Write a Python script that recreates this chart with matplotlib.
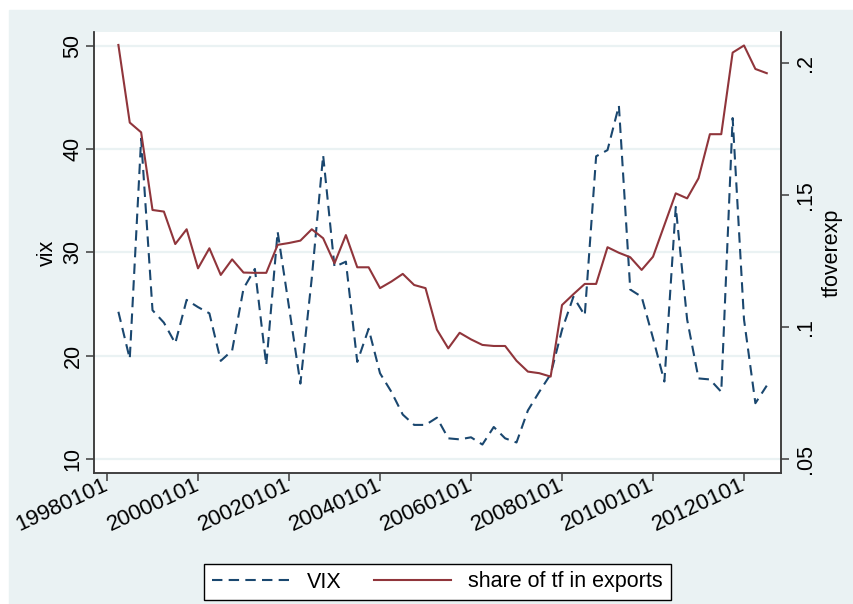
#
# VIX vs share of trade finance in exports (quarterly)
#
import numpy as np
import pandas as pd
import matplotlib
matplotlib.use("Agg")
import matplotlib.pyplot as plt
from matplotlib.patches import Rectangle

plt.rcParams['font.family'] = ['Liberation Sans', 'DejaVu Sans']

#
# Data
#
quarters = pd.period_range('1998Q2', '2012Q3', freq='Q')

vix = [24.25, 19.7, 41.0, 24.4, 23.2, 21.2, 25.4, 24.7, 24.1, 19.5,
       20.5, 26.5, 28.4, 19.1, 32.0, 24.7, 17.3, 27.5, 39.4, 28.6,
       29.1, 19.4, 22.6, 18.3, 16.5, 14.3, 13.3, 13.3, 14.0, 12.0,
       11.9, 12.1, 11.4, 13.1, 12.0, 11.6, 14.7, 16.5, 18.2, 22.5,
       25.7, 23.9, 39.3, 39.9, 44.2, 26.4, 25.7, 21.7, 17.5, 34.4,
       23.5, 17.8, 17.7, 16.5, 43.0, 23.5, 15.4, 17.1]

tfoverexp = [0.2068, 0.1774, 0.1737, 0.1443, 0.1437, 0.1314, 0.1370, 0.1222, 0.1298, 0.1197,
             0.1256, 0.1206, 0.1205, 0.1205, 0.1311, 0.1318, 0.1327, 0.1370, 0.1336, 0.1241,
             0.1348, 0.1226, 0.1226, 0.1147, 0.1172, 0.1201, 0.1159, 0.1147, 0.0990, 0.0919,
             0.0978, 0.0953, 0.0932, 0.0928, 0.0928, 0.0872, 0.0831, 0.0825, 0.0812, 0.1083,
             0.1124, 0.1163, 0.1163, 0.1302, 0.1281, 0.1264, 0.1216, 0.1266, 0.1386, 0.1506,
             0.1487, 0.1563, 0.1730, 0.1730, 0.2039, 0.2066, 0.1977, 0.1961]

tick_years = [1998, 2000, 2002, 2004, 2006, 2008, 2010, 2012]
tick_labels = ['19980101', '20000101', '20020101', '20040101',
               '20060101', '20080101', '20100101', '20120101']

left_ticks = [10, 20, 30, 40, 50]
right_ticks = [0.05, 0.1, 0.15, 0.2]
right_labels = ['.05', '.1', '.15', '.2']

# quarter start as a fractional year
xpos = np.array([q.year + (q.quarter - 1) / 4.0 for q in quarters])

navy = '#1a476f'
maroon = '#90353b'
bg = '#eaf2f3'
axcol = '#3c3c3c'

#
# Figure
#
fig = plt.figure(figsize=(8.54, 6.04), dpi=100)
fig.patches.append(Rectangle((9 / 854, 0), 1 - 9 / 854, 1 - 9.5 / 604,
                             transform=fig.transFigure, color=bg, zorder=-10))

ax = fig.add_axes([94 / 854, 1 - 473 / 604, (781 - 94) / 854, (473 - 32) / 604])
ax.set_facecolor('white')
ax2 = ax.twinx()

l1, = ax.plot(xpos, vix, color=navy, lw=1.5, dashes=(5, 3))
l2, = ax2.plot(xpos, tfoverexp, color=maroon, lw=1.5)

ax.set_xlim(1997.714, 2012.813)
ax.set_ylim(8.645, 51.33)
ax2.set_ylim(0.0447, 0.2117)

ax.set_yticks(left_ticks)
ax.set_yticklabels([str(t) for t in left_ticks], rotation=90, va='center')
ax2.set_yticks(right_ticks)
ax2.set_yticklabels(right_labels, rotation=90, va='center')
ax.set_xticks(tick_years)
ax.set_xticklabels(tick_labels, rotation=25, ha='right', va='center',
                   rotation_mode='anchor')

ax.grid(axis='y', color=bg, lw=1.6)
ax.set_axisbelow(True)

for a in (ax, ax2):
    a.spines['top'].set_visible(False)
    for s in ('left', 'right', 'bottom'):
        a.spines[s].set_color(axcol)
        a.spines[s].set_linewidth(1.1)
    a.tick_params(colors='black', labelsize=15.5, width=1.1, length=6, pad=4)
    a.tick_params(axis='both', color=axcol)

ax.tick_params(axis='x', pad=2, labelsize=16)
ax.tick_params(axis='y', pad=1.5)
ax.set_ylabel('vix', fontsize=15.5, labelpad=3.5)
ax2.set_ylabel('tfoverexp', fontsize=15.5, labelpad=4)

leg = fig.legend([l1, l2], ['VIX', 'share of tf in exports'], ncol=2,
                 loc='center', bbox_to_anchor=(437.5 / 854, 1 - 582 / 604),
                 fontsize=15.5, frameon=True, fancybox=False, framealpha=1,
                 handlelength=3.6, columnspacing=1.5, handletextpad=0.8,
                 borderpad=0.35)
leg.get_frame().set_edgecolor('black')
leg.get_frame().set_linewidth(1.0)
leg.get_frame().set_facecolor('white')

fig.savefig('out.png', dpi=100, facecolor='white')
